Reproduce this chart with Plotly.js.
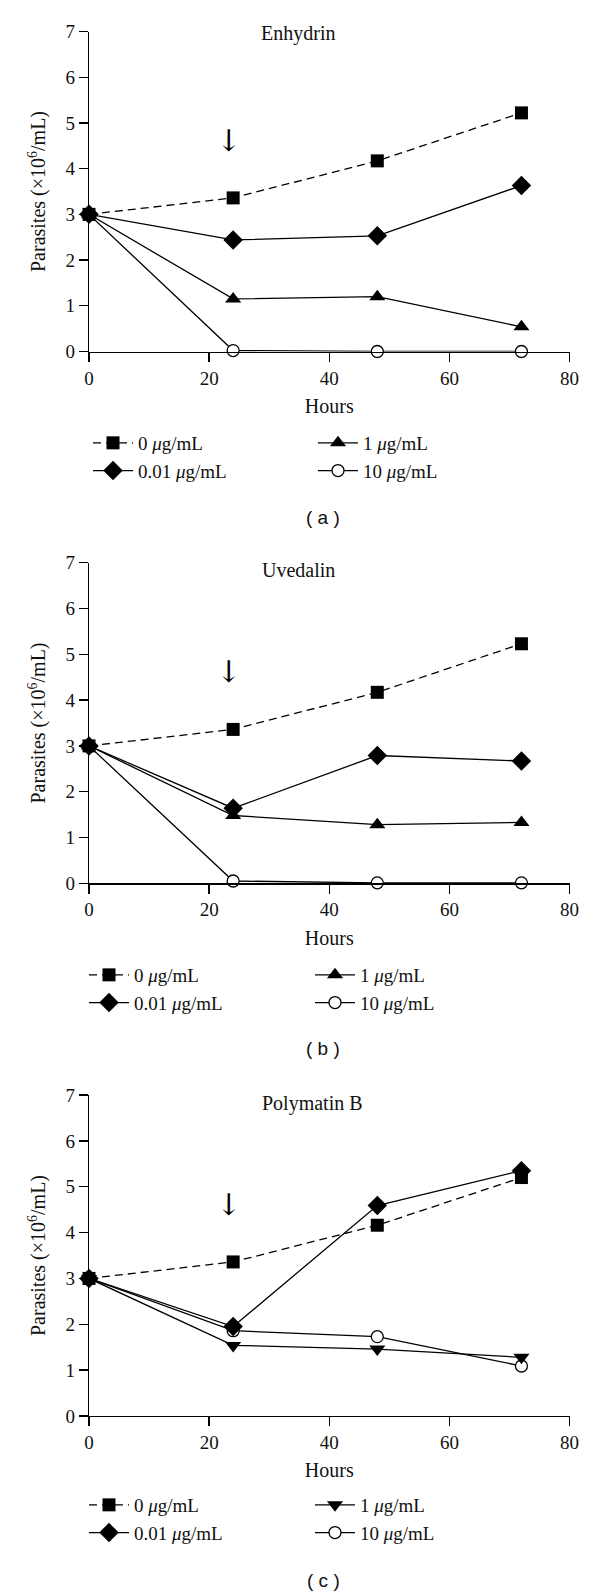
<!DOCTYPE html>
<html>
<head>
<meta charset="utf-8">
<script src="https://cdn.plot.ly/plotly-3.0.1.min.js"></script>
<style>html,body{margin:0;padding:0;background:#fff;} #chart{width:600px;height:1595px;}</style>
</head>
<body>
<div id="chart"></div>
<script>
// ---------- data ----------
const hours = [0, 24, 48, 72];
const panelTitles = ['Enhydrin', 'Uvedalin', 'Polymatin B'];
const panelLabels = ['( a )', '( b )', '( c )'];
const seriesNames = ['0 <i>μ</i>g/mL', '0.01 <i>μ</i>g/mL', '1 <i>μ</i>g/mL', '10 <i>μ</i>g/mL'];
const xTicks = [0, 20, 40, 60, 80];
const yTicks = [0, 1, 2, 3, 4, 5, 6, 7];

const enhydrin_0    = [3, 3.36, 4.17, 5.22];
const enhydrin_001  = [3, 2.44, 2.53, 3.63];
const enhydrin_1    = [3, 1.15, 1.20, 0.54];
const enhydrin_10   = [3, 0.02, 0.00, 0.00];

const uvedalin_0    = [3, 3.36, 4.17, 5.23];
const uvedalin_001  = [3, 1.64, 2.79, 2.67];
const uvedalin_1    = [3, 1.48, 1.28, 1.33];
const uvedalin_10   = [3, 0.05, 0.01, 0.01];

const polymatin_0   = [3, 3.36, 4.16, 5.20];
const polymatin_001 = [3, 1.95, 4.59, 5.35];
const polymatin_1   = [3, 1.54, 1.46, 1.28];
const polymatin_10  = [3, 1.86, 1.73, 1.09];

// treatment-start arrow marker (hours, value at arrow centre)
const arrowHour = 23.2;
const arrowValue = 4.62;

const panels = [
  [enhydrin_0, enhydrin_001, enhydrin_1, enhydrin_10],
  [uvedalin_0, uvedalin_001, uvedalin_1, uvedalin_10],
  [polymatin_0, polymatin_001, polymatin_1, polymatin_10]
];

// ---------- layout geometry (pixels on a 600x1595 page) ----------
const W = 600, H = 1595;
const px = x => x / W;
const py = y => 1 - y / H;
const SERIF = 'Liberation Serif, Times New Roman, serif';
const SANS = 'Liberation Sans, Arial, sans-serif';

const plotLeft = 89, plotRight = 569.5;
const yZeroPx = [351.5, 883.3, 1416];
const ySevenPx = [31.5, 562.7, 1095];
const titlePx = [[298, 33], [298, 570], [313, 1103]];
const labelPx = [518, 1048, 1580];
const legendTopPx = [[424, 424], [956, 956], [1486, 1486]];
const legendColPx = [[88, 313], [84, 310], [84, 310]];

const upTri = ['triangle-up', 'triangle-up', 'triangle-down'];

const traces = [];
const layout = {
  width: W, height: H,
  margin: {l: 0, r: 0, t: 0, b: 0},
  paper_bgcolor: '#ffffff', plot_bgcolor: 'rgba(0,0,0,0)',
  font: {family: SERIF, size: 19, color: '#111'},
  showlegend: true,
  annotations: [],
  hovermode: false
};

panels.forEach((series, p) => {
  const xa = p === 0 ? 'x' : 'x' + (p + 1);
  const ya = p === 0 ? 'y' : 'y' + (p + 1);
  const xk = p === 0 ? 'xaxis' : 'xaxis' + (p + 1);
  const yk = p === 0 ? 'yaxis' : 'yaxis' + (p + 1);
  const legA = 'legend' + (p === 0 ? '' : (2 * p + 1));
  const legB = 'legend' + (2 * p + 2);

  const styles = [
    {sym: 'square', size: 13, dash: '8px,5px', leg: legA, rank: 1},
    {sym: 'diamond', size: 15, dash: 'solid', leg: legA, rank: 2},
    {sym: upTri[p], size: 14, dash: 'solid', leg: legB, rank: 1},
    {sym: 'circle', size: 12, dash: 'solid', leg: legB, rank: 2}
  ];
  // draw order: 10, 1, 0.01, 0
  [3, 2, 1, 0].forEach(i => {
    const s = styles[i];
    traces.push({
      type: 'scatter', mode: 'lines+markers',
      x: hours, y: series[i],
      xaxis: xa, yaxis: ya,
      name: seriesNames[i],
      legend: s.leg, legendrank: s.rank,
      cliponaxis: false,
      line: {color: '#000', width: 1.3, dash: s.dash},
      marker: i === 3
        ? {symbol: 'circle', size: s.size, color: '#fff', line: {color: '#000', width: 1.3}}
        : {symbol: s.sym, size: s.size, color: '#000', line: {width: 0}}
    });
  });

  const dom = [py(yZeroPx[p]), py(ySevenPx[p])];
  layout[xk] = {
    domain: [px(plotLeft), px(plotRight)], anchor: ya,
    range: [0, 80], tickvals: xTicks, ticktext: xTicks.map(String),
    showline: true, linecolor: '#000', linewidth: 1.3,
    ticks: 'outside', ticklen: 9, tickwidth: 1.3, tickcolor: '#000',
    showgrid: false, zeroline: false,
    tickfont: {family: SERIF, size: 19, color: '#111'},
    title: {text: 'Hours', font: {family: SERIF, size: 20, color: '#111'}, standoff: 11},
    fixedrange: true
  };
  layout[yk] = {
    domain: dom, anchor: xa,
    range: [0, 7], tickvals: yTicks, ticktext: yTicks.map(String),
    showline: true, linecolor: '#000', linewidth: 1.3,
    ticks: 'outside', ticklen: 9, tickwidth: 1.3, tickcolor: '#000',
    showgrid: false, zeroline: false,
    tickfont: {family: SERIF, size: 19, color: '#111'},
    title: {text: 'Parasites (×10<sup>6</sup>/mL)', font: {family: SERIF, size: 20, color: '#111'}, standoff: 14},
    fixedrange: true
  };

  [legA, legB].forEach((lk, c) => {
    layout[lk] = {
      x: px(legendColPx[p][c]), y: py(legendTopPx[p][c]),
      xanchor: 'left', yanchor: 'top', xref: 'paper', yref: 'paper',
      orientation: 'v', bgcolor: 'rgba(0,0,0,0)', borderwidth: 0,
      itemwidth: 40, tracegroupgap: 0, traceorder: 'normal',
      font: {family: SERIF, size: 19, color: '#111'},
      itemclick: false, itemdoubleclick: false
    };
  });

  layout.annotations.push({
    xref: 'paper', yref: 'paper', x: px(titlePx[p][0]), y: py(titlePx[p][1]),
    xanchor: 'center', yanchor: 'middle', showarrow: false,
    text: panelTitles[p], font: {family: SERIF, size: 20, color: '#111'}
  });
  layout.annotations.push({
    xref: 'paper', yref: 'paper', x: px(323), y: py(labelPx[p]),
    xanchor: 'center', yanchor: 'middle', showarrow: false,
    text: panelLabels[p], font: {family: SANS, size: 19, color: '#111'}
  });
  layout.annotations.push({
    xref: xa, yref: ya, x: arrowHour, y: arrowValue,
    xanchor: 'center', yanchor: 'middle', showarrow: false,
    text: '↓', font: {family: 'DejaVu Serif, DejaVu Sans, serif', size: 30, color: '#000'}
  });
});

Plotly.newPlot('chart', traces, layout, {staticPlot: true, displayModeBar: false});
</script>
</body>
</html>
